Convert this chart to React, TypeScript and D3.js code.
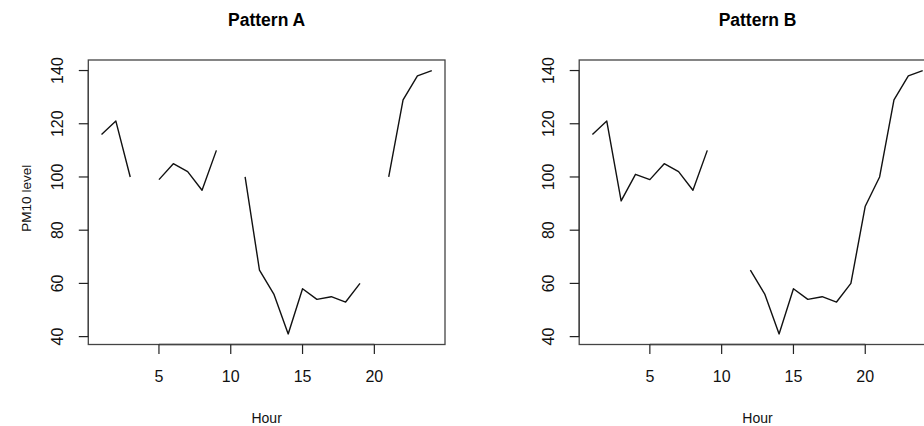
import React from "react";
import * as d3 from "d3";

const hours = [1, 2, 3, 4, 5, 6, 7, 8, 9, 10, 11, 12, 13, 14, 15, 16, 17, 18, 19, 20, 21, 22, 23, 24];
const patternA: (number | null)[] = [116, 121, 100, null, 99, 105, 102, 95, 110, null, 100, 65, 56, 41, 58, 54, 55, 53, 60, null, 100, 129, 138, 140];
const patternB: (number | null)[] = [116, 121, 91, 101, 99, 105, 102, 95, 110, null, null, 65, 56, 41, 58, 54, 55, 53, 60, 89, 100, 129, 138, 140];
const titles = ["Pattern A", "Pattern B"];
const xTicks = [5, 10, 15, 20];
const yTicks = [40, 60, 80, 100, 120, 140];
const xLabel = "Hour";
const yLabel = "PM10 level";

const W = 924;
const H = 426;
const FONT = "'Liberation Sans', Arial, Helvetica, sans-serif";

function pad(ext: [number, number]): [number, number] {
  const r = ext[1] - ext[0];
  return [ext[0] - r * 0.04, ext[1] + r * 0.04];
}

function Panel({ values, title, left, showYLabel }: { values: (number | null)[]; title: string; left: number; showYLabel: boolean }) {
  const top = 60;
  const bottom = 344.5;
  const width = 356.7;
  const right = left + width;
  const allVals = [...patternA, ...patternB].filter((v) => v != null) as number[];
  const x = d3.scaleLinear().domain(pad(d3.extent(hours) as [number, number])).range([left, right]);
  const y = d3.scaleLinear().domain(pad(d3.extent(allVals) as [number, number])).range([bottom, top]);
  const line = d3
    .line<[number, number | null]>()
    .defined((d) => d[1] != null)
    .x((d) => x(d[0]))
    .y((d) => y(d[1] as number));
  const pts: [number, number | null][] = hours.map((h, i) => [h, values[i]]);
  const tick = 9.5;
  const cx = (left + right) / 2;
  return (
    <g>
      <text x={cx} y={26} textAnchor="middle" fontFamily={FONT} fontWeight="bold" fontSize={17.5} fill="#000">
        {title}
      </text>
      <rect x={left} y={top} width={width} height={bottom - top} fill="none" stroke="#444" strokeWidth={1.3} />
      <path d={line(pts) || ""} fill="none" stroke="#111" strokeWidth={1.4} strokeLinejoin="round" />
      {/* x axis */}
      <line x1={x(xTicks[0])} x2={x(xTicks[xTicks.length - 1])} y1={bottom} y2={bottom} stroke="#444" strokeWidth={1.3} />
      {xTicks.map((t) => (
        <g key={"x" + t}>
          <line x1={x(t)} x2={x(t)} y1={bottom} y2={bottom + tick} stroke="#222" strokeWidth={1.2} />
          <text x={x(t)} y={382} textAnchor="middle" fontFamily={FONT} fontSize={16} fill="#111">
            {t}
          </text>
        </g>
      ))}
      {/* y axis */}
      <line x1={left} x2={left} y1={y(yTicks[0])} y2={y(yTicks[yTicks.length - 1])} stroke="#444" strokeWidth={1.3} />
      {yTicks.map((t) => (
        <g key={"y" + t}>
          <line x1={left - tick} x2={left} y1={y(t)} y2={y(t)} stroke="#222" strokeWidth={1.2} />
          <text
            transform={`translate(${left - 25},${y(t)}) rotate(-90)`}
            textAnchor="middle"
            fontFamily={FONT}
            fontSize={16}
            fill="#111"
          >
            {t}
          </text>
        </g>
      ))}
      <text x={cx} y={423} textAnchor="middle" fontFamily={FONT} fontSize={14} fill="#111">
        {xLabel}
      </text>
      {showYLabel && (
        <text
          transform={`translate(${30.5},${(top + bottom) / 2 - 4}) rotate(-90)`}
          textAnchor="middle"
          fontFamily={FONT}
          fontSize={13.5}
          fill="#111"
        >
          {yLabel}
        </text>
      )}
    </g>
  );
}

export default function App() {
  return (
    <svg
      width={W}
      height={H}
      viewBox={`0 0 ${W} ${H}`}
      style={{ position: "absolute", left: 0, top: 0, background: "#fff", display: "block" }}
    >
      <rect x={0} y={0} width={W} height={H} fill="#fff" />
      <Panel values={patternA} title={titles[0]} left={88.3} showYLabel={true} />
      <Panel values={patternB} title={titles[1]} left={579.2} showYLabel={false} />
    </svg>
  );
}
